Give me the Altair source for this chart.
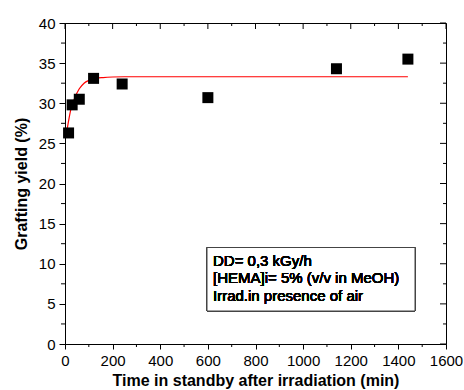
import altair as alt
import pandas as pd

# measured points
time_min = [15, 30, 60, 120, 240, 600, 1140, 1440]
yield_pct = [26.3, 29.8, 30.5, 33.1, 32.4, 30.7, 34.3, 35.5]

# fitted curve
fit_t = [8, 15, 25, 40, 60, 80, 100, 130, 160, 200, 250, 400, 800, 1440]
fit_y = [26.6, 27.8, 29.3, 30.6, 31.8, 32.5, 32.85, 33.1, 33.2, 33.27, 33.3, 33.3, 33.3, 33.3]

x_major = [0, 200, 400, 600, 800, 1000, 1200, 1400, 1600]
x_minor = [100, 300, 500, 700, 900, 1100, 1300, 1500]
y_major = [0, 5, 10, 15, 20, 25, 30, 35, 40]
y_minor = [2.5, 7.5, 12.5, 17.5, 22.5, 27.5, 32.5, 37.5]

note_lines = ["DD= 0,3 kGy/h", "[HEMA]i= 5% (v/v in MeOH)", "Irrad.in presence of air"]

W, H = 381, 321
FONT = "Liberation Sans"

pts = pd.DataFrame({"t": time_min, "y": yield_pct})
fit = pd.DataFrame({"t": fit_t, "y": fit_y})

xs = alt.Scale(domain=[0, 1600], nice=False, zero=False)
ys = alt.Scale(domain=[0, 40], nice=False, zero=False)

base_axes = alt.Chart(pts).mark_point(opacity=0).encode(
    x=alt.X("t:Q", scale=xs, title="Time in standby after irradiation (min)",
            axis=alt.Axis(values=x_major, format="d", tickSize=5, tickColor="black", domainColor="black",
                          labelFont=FONT, labelFontSize=15, labelColor="black", labelPadding=4,
                          titleFont=FONT, titleFontSize=16, titleFontWeight="bold", titleColor="black",
                          titlePadding=4, grid=False, labelFlush=False)),
    y=alt.Y("y:Q", scale=ys, title="Grafting yield (%)",
            axis=alt.Axis(values=y_major, tickSize=6, tickColor="black", domainColor="black",
                          labelFont=FONT, labelFontSize=15, labelColor="black", labelPadding=4,
                          titleFont=FONT, titleFontSize=16, titleFontWeight="bold", titleColor="black",
                          titlePadding=9, grid=False, labelFlush=False)),
)

def xticks(vals, y0, y1):
    return alt.Chart(pd.DataFrame({"t": vals})).mark_rule(color="black", strokeWidth=1).encode(
        x=alt.X("t:Q", scale=xs), y=alt.value(y0), y2=alt.value(y1))

def yticks(vals, x0, x1):
    return alt.Chart(pd.DataFrame({"y": vals})).mark_rule(color="black", strokeWidth=1).encode(
        y=alt.Y("y:Q", scale=ys), x=alt.value(x0), x2=alt.value(x1))

ticks = [
    xticks(x_minor, H, H + 3),
    xticks(x_major, 0, 6),
    xticks(x_minor, 0, 3),
    yticks(y_minor, -4, 0),
    yticks(y_major, W - 6, W),
    yticks(y_minor, W - 3, W),
]

line = alt.Chart(fit).mark_line(color="#ff0000", strokeWidth=1.2, interpolate="monotone").encode(
    x=alt.X("t:Q", scale=xs), y=alt.Y("y:Q", scale=ys))

squares = alt.Chart(pts).mark_square(size=121, color="black", opacity=1, filled=True).encode(
    x=alt.X("t:Q", scale=xs), y=alt.Y("y:Q", scale=ys))

box = alt.Chart(pts).mark_rect(fill="white", stroke="#444444", strokeWidth=1).encode(
    x=alt.value(142), x2=alt.value(350), y=alt.value(224.5), y2=alt.value(288))

note = alt.Chart(pts).mark_text(text=note_lines, align="left", baseline="alphabetic",
                                font=FONT, fontSize=15, lineHeight=17.8, color="black").encode(
    x=alt.value(148), y=alt.value(242.5))

chart = alt.layer(base_axes, *ticks, line, squares, box, note).properties(
    width=W, height=H,
    padding={"left": 65, "top": 23, "right": 18, "bottom": 46},
    autosize=alt.AutoSizeParams(type="none"),
).configure_view(stroke="black", strokeWidth=1)

chart.save("out.html", embed_options={"renderer": "svg", "actions": False})
